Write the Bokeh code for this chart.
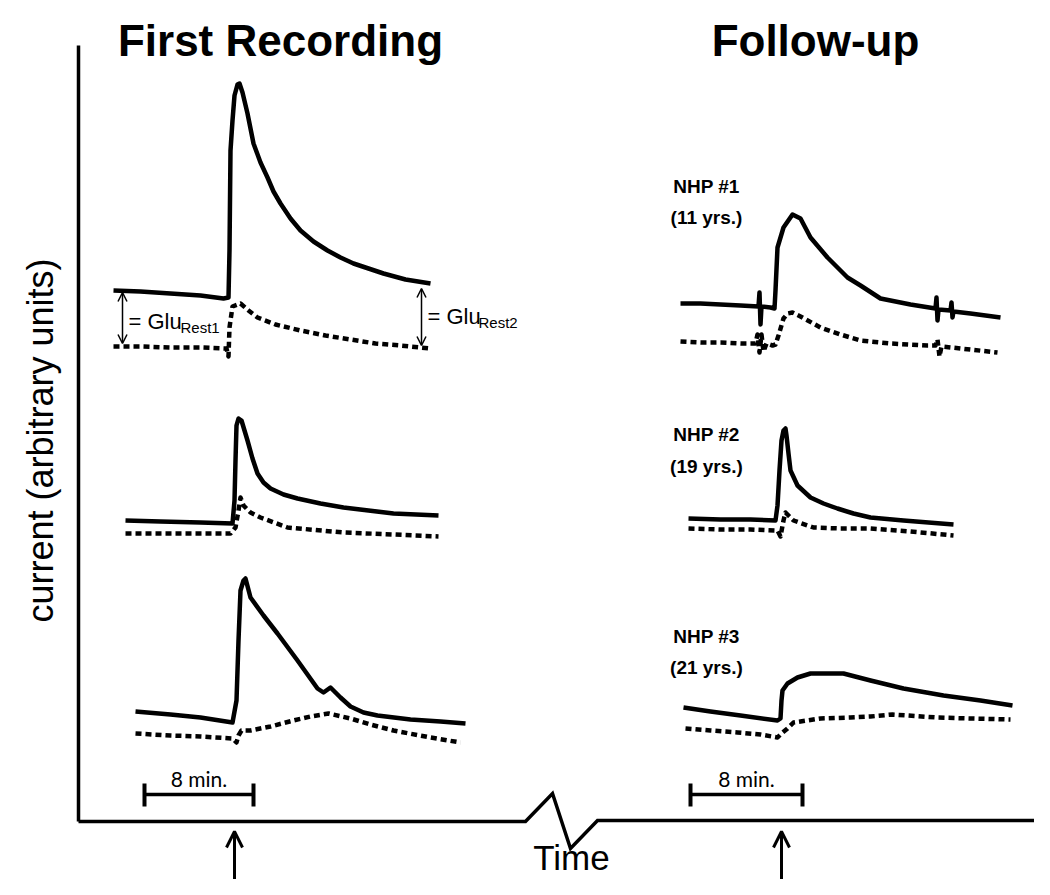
from bokeh.plotting import figure
from bokeh.models import Range1d, Arrow, OpenHead
from bokeh.core.properties import value
from bokeh.embed import file_html
from bokeh.resources import INLINE

# ---------------- data (canvas units: time -> x, current -> y, y grows downward) ----------------
# First Recording, NHP #1
t1l_solid_x = [113, 140, 170, 200, 223, 228, 229, 230, 232, 234, 237, 239, 242, 247, 253, 260, 267, 273, 280, 290, 300, 313, 327, 340, 353, 368, 383, 405, 430]
t1l_solid_y = [290, 291, 293, 295, 298, 297, 250, 150, 120, 95, 84, 83, 92, 113, 143, 162, 177, 191, 203, 218, 230, 241, 250, 257, 263, 268, 273, 279, 283]
t1l_dash_x = [113, 140, 170, 200, 226, 228, 229, 232, 240, 248, 257, 275, 300, 325, 350, 375, 400, 430]
t1l_dash_y = [346, 346, 347, 347, 348, 356, 327, 306, 303, 310, 317, 324, 330, 335, 339, 343, 345, 348]
# Follow-up, NHP #1
t1r_solid_x = [680, 700, 720, 740, 758, 759, 760, 761, 770, 774, 775, 777, 783, 792, 800, 810, 827, 847, 860, 880, 910, 935, 936, 937, 938, 950, 951, 952, 953, 970, 1000]
t1r_solid_y = [303, 303, 304, 305, 306, 292, 324, 306, 307, 308, 290, 247, 227, 214, 218, 237, 257, 277, 285, 298, 304, 308, 297, 320, 309, 310, 302, 317, 311, 313, 317]
t1r_dash_x = [680, 700, 720, 740, 755, 757, 759, 761, 763, 766, 772, 775, 778, 783, 787, 792, 800, 820, 840, 860, 890, 927, 935, 937, 939, 941, 960, 997]
t1r_dash_y = [341, 342, 342, 343, 343, 334, 352, 334, 351, 343, 345, 344, 335, 318, 313, 312, 316, 327, 334, 340, 343, 345, 345, 339, 356, 346, 348, 352]
# First Recording, NHP #2
t2l_solid_x = [125, 160, 200, 232, 234, 235, 236, 238, 241, 247, 252, 257, 263, 270, 283, 297, 320, 343, 368, 393, 438]
t2l_solid_y = [520, 521, 522, 523, 500, 460, 425, 418, 420, 440, 458, 473, 482, 488, 494, 498, 503, 507, 510, 513, 515]
t2l_dash_x = [125, 160, 200, 230, 235, 238, 240, 243, 250, 260, 287, 343, 393, 438]
t2l_dash_y = [533, 533, 533, 533, 527, 510, 497, 505, 512, 517, 527, 532, 534, 536]
# Follow-up, NHP #2
t2r_solid_x = [688, 720, 750, 775, 777, 779, 781, 783, 785, 786, 788, 790, 797, 810, 823, 837, 853, 870, 903, 953]
t2r_solid_y = [518, 519, 519, 520, 505, 470, 440, 430, 428, 435, 453, 470, 485, 497, 503, 508, 513, 517, 520, 524]
t2r_dash_x = [688, 720, 750, 777, 780, 783, 785, 789, 793, 813, 840, 870, 910, 953]
t2r_dash_y = [528, 529, 529, 530, 536, 520, 512, 516, 520, 527, 528, 528, 531, 535]
# First Recording, NHP #3
t3l_solid_x = [135, 170, 200, 232, 236, 238, 240, 243, 245, 250, 263, 277, 297, 317, 323, 330, 340, 350, 363, 377, 410, 440, 465]
t3l_solid_y = [711, 714, 717, 722, 700, 640, 590, 580, 578, 597, 615, 633, 660, 688, 692, 687, 697, 706, 712, 715, 719, 721, 723]
t3l_dash_x = [135, 170, 200, 232, 236, 238, 241, 250, 270, 293, 310, 328, 350, 370, 393, 430, 460]
t3l_dash_y = [733, 735, 736, 738, 742, 735, 730, 730, 726, 720, 716, 713, 718, 724, 730, 737, 742]
# Follow-up, NHP #3
t3r_solid_x = [683, 710, 740, 777, 780, 781, 782, 787, 797, 810, 843, 870, 903, 943, 980, 1012]
t3r_solid_y = [707, 711, 715, 720, 718, 700, 690, 683, 677, 673, 673, 680, 688, 695, 700, 705]
t3r_dash_x = [685, 710, 737, 760, 777, 781, 787, 793, 820, 850, 870, 892, 937, 970, 1010]
t3r_dash_y = [728, 730, 732, 734, 737, 733, 728, 722, 718, 717, 716, 714, 717, 718, 719]

# axes outline (time axis with break)
axis_v_x = [78, 78]
axis_v_y = [45, 821]
axis_h_x = [78, 525, 552, 570, 597, 1040]
axis_h_y = [821, 821, 793, 848, 820, 820]

# labels
titles = ["First Recording", "Follow-up"]
title_x = [280, 815]
nhp_labels = ["NHP #1", "(11 yrs.)", "NHP #2", "(19 yrs.)", "NHP #3", "(21 yrs.)"]
nhp_x = [706, 706, 706, 706, 706, 706]
nhp_y = [186, 217, 434, 466, 636, 667]
scale_label = ["8 min.", "8 min."]
scale_x0 = [144, 690]
scale_x1 = [253, 802]
stim_x = [234, 781]
glu_x = [128, 427]
glu_sub = ["Rest1", "Rest2"]
glu_sub_x = [180, 478]
glu_y = [321, 316]
glu_top = [292, 288]
glu_bot = [343, 345]
glu_arrow_x = [122, 421]

FONT = value("Liberation Sans")

p = figure(width=1034, height=879, output_backend="svg", toolbar_location=None,
           x_range=Range1d(0, 1034), y_range=Range1d(879, 0),
           x_axis_type=None, y_axis_type=None, min_border=0)
p.grid.visible = False
p.outline_line_color = None
p.background_fill_color = "white"
p.border_fill_color = "white"

# traces
solid = [(t1l_solid_x, t1l_solid_y), (t1r_solid_x, t1r_solid_y), (t2l_solid_x, t2l_solid_y),
         (t2r_solid_x, t2r_solid_y), (t3l_solid_x, t3l_solid_y), (t3r_solid_x, t3r_solid_y)]
dashed = [(t1l_dash_x, t1l_dash_y), (t1r_dash_x, t1r_dash_y), (t2l_dash_x, t2l_dash_y),
          (t2r_dash_x, t2r_dash_y), (t3l_dash_x, t3l_dash_y), (t3r_dash_x, t3r_dash_y)]
for xs, ys in solid:
    p.line(xs, ys, line_color="black", line_width=4.5, line_join="round")
for xs, ys in dashed:
    p.line(xs, ys, line_color="black", line_width=4.5, line_dash="6 4", line_join="round")

# axes
p.line(axis_v_x, axis_v_y, line_color="black", line_width=3.5)
p.line(axis_h_x, axis_h_y, line_color="black", line_width=3.5, line_join="miter")

# scale bars
bar_y = [794, 794]
p.segment(x0=scale_x0, y0=bar_y, x1=scale_x1, y1=bar_y, line_color="black", line_width=3.5)
p.segment(x0=scale_x0 + scale_x1, y0=[783] * 4, x1=scale_x0 + scale_x1, y1=[806] * 4,
          line_color="black", line_width=4)
p.text(x=[(a + b) / 2 for a, b in zip(scale_x0, scale_x1)], y=[778, 778], text=scale_label,
       text_font=value("Lato"), text_font_size="21px", text_align="center",
       text_baseline="middle", text_color="black")

# stimulus arrows
for sx in stim_x:
    p.add_layout(Arrow(end=OpenHead(size=16, line_width=3, line_color="black"),
                       x_start=sx, y_start=879, x_end=sx, y_end=831,
                       line_width=3, line_color="black"))

# GluRest arrows + labels
for ax, t, b in zip(glu_arrow_x, glu_top, glu_bot):
    p.add_layout(Arrow(start=OpenHead(size=9, line_width=1.5, line_color="black"),
                       end=OpenHead(size=9, line_width=1.5, line_color="black"),
                       x_start=ax, y_start=t, x_end=ax, y_end=b,
                       line_width=1.5, line_color="black"))
p.text(x=glu_x, y=glu_y, text=["= Glu", "= Glu"], text_font=FONT, text_font_size="22px",
       text_align="left", text_baseline="middle", text_color="black")
p.text(x=glu_sub_x, y=[y + 6 for y in glu_y], text=glu_sub, text_font=FONT, text_font_size="15px",
       text_align="left", text_baseline="middle", text_color="black")

# titles
p.text(x=title_x, y=[40, 40], text=titles, text_font=FONT, text_font_size="44px",
       text_font_style="bold", text_align="center", text_baseline="middle", text_color="black")
# subject labels
p.text(x=nhp_x, y=nhp_y, text=nhp_labels, text_font=FONT, text_font_size="19px",
       text_font_style="bold", text_align="center", text_baseline="middle", text_color="black")
# axis titles
p.text(x=[571], y=[857], text=["Time"], text_font=FONT, text_font_size="35px",
       text_align="center", text_baseline="middle", text_color="black")
p.text(x=[40], y=[440], text=["current (arbitrary units)"], text_font=FONT, text_font_size="36px",
       text_align="center", text_baseline="middle", angle=1.5708, text_color="black")

open("out.html", "w").write(file_html(p, INLINE))
